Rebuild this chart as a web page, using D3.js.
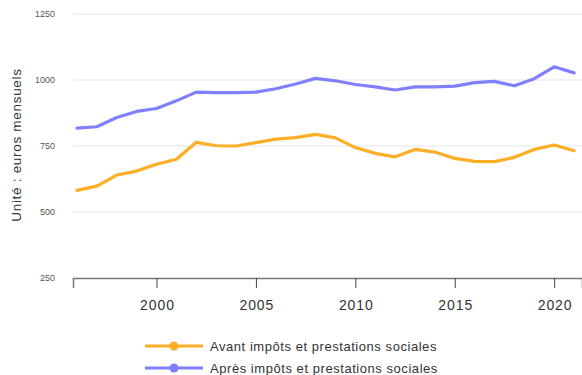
<!DOCTYPE html>
<html>
<head>
<meta charset="utf-8">
<script src="https://cdn.jsdelivr.net/npm/d3@7"></script>
<style>
  html, body { margin: 0; padding: 0; background: #fff; }
  svg { display: block; font-family: "Liberation Sans", Arial, sans-serif; }
</style>
</head>
<body>
<svg id="chart" width="582" height="375"></svg>
<script>
// Revenu mensuel, avant et après impôts et prestations sociales (euros)
const years = d3.range(1996, 2022);
const avant = [582, 598, 640, 655, 681, 700, 764, 751, 750, 763, 776, 782, 794, 781, 744, 722, 709, 737, 727, 703, 692, 691, 707, 737, 754, 732];
const apres = [818, 823, 858, 881, 892, 921, 954, 952, 952, 954, 967, 985, 1006, 997, 983, 974, 962, 974, 974, 977, 990, 995, 978, 1005, 1050, 1027];
const yTicks = [250, 500, 750, 1000, 1250];
const xTicks = [2000, 2005, 2010, 2015, 2020];
const seriesNames = ["Avant impôts et prestations sociales", "Après impôts et prestations sociales"];
const seriesColors = ["#ffae25", "#8080ff"];
const yTitle = "Unité : euros mensuels";

const svg = d3.select("#chart");
const plotLeft = 73, plotRight = 582, plotTop = 14, plotBottom = 278;

const x = d3.scaleLinear().domain([1995.8, 2021.4]).range([plotLeft, plotRight]);
const y = d3.scaleLinear().domain([250, 1250]).range([plotBottom, plotTop]);

// horizontal grid
svg.append("g")
  .selectAll("line")
  .data(yTicks.filter(d => d !== 250))
  .join("line")
  .attr("x1", plotLeft).attr("x2", plotRight)
  .attr("y1", d => y(d)).attr("y2", d => y(d))
  .attr("stroke", "#e6e6e6").attr("stroke-width", 1);

// y tick labels
svg.append("g")
  .selectAll("text")
  .data(yTicks)
  .join("text")
  .attr("x", 55)
  .attr("y", d => y(d))
  .attr("dy", "0.35em")
  .attr("text-anchor", "end")
  .attr("font-size", 9)
  .attr("fill", "#555")
  .text(d => d);

// y title
svg.append("text")
  .attr("transform", `translate(21,145) rotate(-90)`)
  .attr("text-anchor", "middle")
  .attr("font-size", 13.5)
  .attr("letter-spacing", 0.7)
  .attr("fill", "#333")
  .text(yTitle);

// x axis
const xAxis = d3.axisBottom(x)
  .tickValues(xTicks)
  .tickFormat(d3.format("d"))
  .tickSize(10)
  .tickPadding(12);
const gx = svg.append("g")
  .attr("transform", `translate(0,${plotBottom})`)
  .call(xAxis);
gx.select(".domain").attr("stroke", "#777").attr("stroke-width", 1.5);
gx.selectAll(".tick line").attr("stroke", "#444").attr("stroke-width", 1);
gx.selectAll(".tick text")
  .attr("font-size", 14)
  .attr("letter-spacing", 0.9)
  .attr("dx", 0.45)
  .attr("fill", "#333")
  .attr("font-family", "Liberation Sans, Arial, sans-serif");

// lines
const line = d3.line()
  .x((d, i) => x(years[i]))
  .y(d => y(d));

[avant, apres].forEach((vals, k) => {
  svg.append("path")
    .datum(vals)
    .attr("fill", "none")
    .attr("stroke", seriesColors[k])
    .attr("stroke-width", 3.2)
    .attr("stroke-linejoin", "round")
    .attr("stroke-linecap", "round")
    .attr("d", line);
});

// legend
const legend = svg.append("g");
seriesNames.forEach((name, k) => {
  const ly = 346 + k * 22;
  legend.append("line")
    .attr("x1", 145).attr("x2", 203)
    .attr("y1", ly).attr("y2", ly)
    .attr("stroke", seriesColors[k]).attr("stroke-width", 3);
  legend.append("circle")
    .attr("cx", 174).attr("cy", ly).attr("r", 4.5)
    .attr("fill", seriesColors[k]);
  legend.append("text")
    .attr("x", 210).attr("y", ly)
    .attr("dy", "0.35em")
    .attr("font-size", 13)
    .attr("letter-spacing", 0.55)
    .attr("fill", "#333")
    .text(name);
});
</script>
</body>
</html>
